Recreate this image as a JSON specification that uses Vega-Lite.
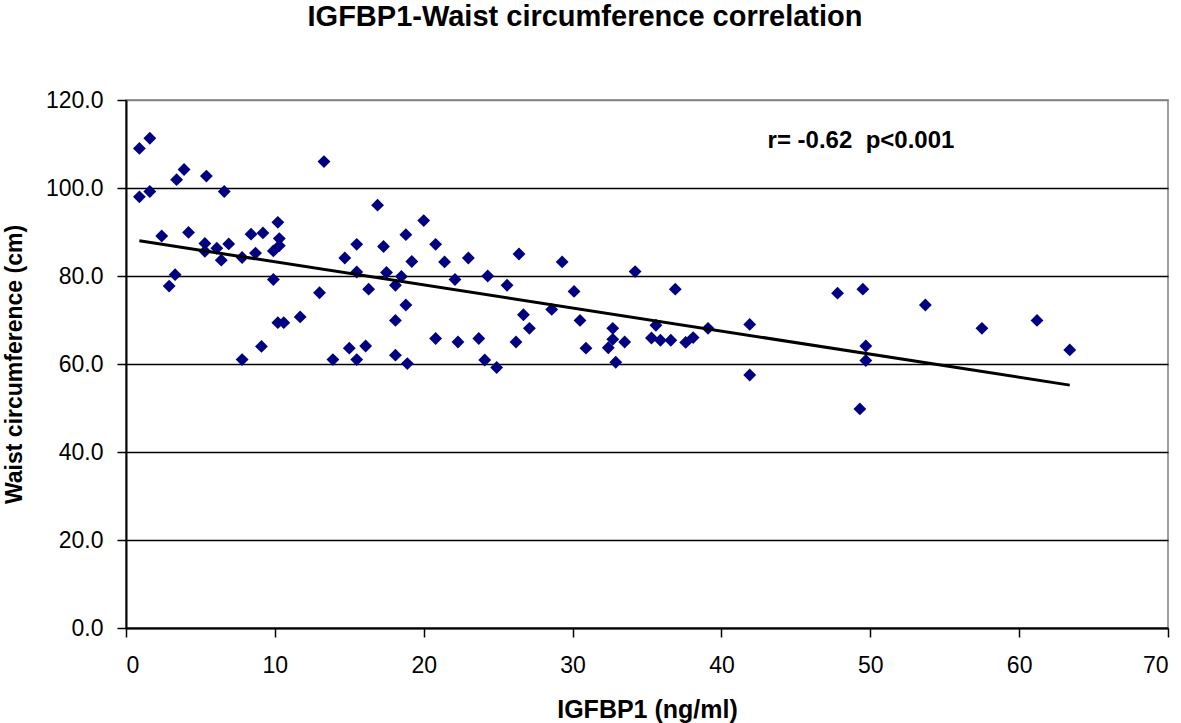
{
  "$schema": "https://vega.github.io/schema/vega-lite/v6.json",
  "autosize": {"type": "none"},
  "padding": {"left": 126, "top": 100, "right": 13, "bottom": 95},
  "width": 1042,
  "height": 528,
  "background": "white",
  "title": {
    "text": "IGFBP1-Waist circumference correlation",
    "font": "Liberation Sans",
    "fontSize": 29,
    "fontWeight": "bold",
    "color": "black",
    "anchor": "middle",
    "dx": -62,
    "offset": 57
  },
  "config": {
    "font": "Liberation Sans",
    "view": {"stroke": "#808080", "strokeWidth": 1.5},
    "axis": {
      "labelFont": "Liberation Sans",
      "labelColor": "black",
      "labelFontSize": 23,
      "titleFont": "Liberation Sans",
      "titleColor": "black",
      "titleFontWeight": "bold",
      "domainColor": "black",
      "domainWidth": 2,
      "tickColor": "black",
      "tickWidth": 1.5,
      "tickSize": 9
    }
  },
  "datasets": {
    "points": [
      {"igfbp1": 0.9, "waist": 109.0}, {"igfbp1": 1.6, "waist": 111.3},
      {"igfbp1": 0.9, "waist": 98.0}, {"igfbp1": 1.6, "waist": 99.2},
      {"igfbp1": 3.4, "waist": 101.9}, {"igfbp1": 3.9, "waist": 104.2},
      {"igfbp1": 5.4, "waist": 102.7}, {"igfbp1": 6.6, "waist": 99.2},
      {"igfbp1": 13.3, "waist": 106.0}, {"igfbp1": 2.4, "waist": 89.1},
      {"igfbp1": 4.2, "waist": 89.9}, {"igfbp1": 5.3, "waist": 87.4},
      {"igfbp1": 5.3, "waist": 85.6}, {"igfbp1": 6.1, "waist": 86.3},
      {"igfbp1": 6.4, "waist": 83.6}, {"igfbp1": 6.9, "waist": 87.3},
      {"igfbp1": 3.3, "waist": 80.3}, {"igfbp1": 2.9, "waist": 77.7},
      {"igfbp1": 7.8, "waist": 84.2}, {"igfbp1": 8.4, "waist": 89.5},
      {"igfbp1": 9.2, "waist": 89.8}, {"igfbp1": 8.7, "waist": 85.2},
      {"igfbp1": 10.2, "waist": 92.2}, {"igfbp1": 10.3, "waist": 88.5},
      {"igfbp1": 10.3, "waist": 86.9}, {"igfbp1": 9.9, "waist": 85.7},
      {"igfbp1": 9.9, "waist": 79.2}, {"igfbp1": 10.2, "waist": 69.4},
      {"igfbp1": 10.6, "waist": 69.4}, {"igfbp1": 11.7, "waist": 70.7},
      {"igfbp1": 7.8, "waist": 61.0}, {"igfbp1": 9.1, "waist": 64.0},
      {"igfbp1": 13.0, "waist": 76.2}, {"igfbp1": 13.9, "waist": 61.0},
      {"igfbp1": 15.0, "waist": 63.6}, {"igfbp1": 15.5, "waist": 61.0},
      {"igfbp1": 16.1, "waist": 64.1}, {"igfbp1": 14.7, "waist": 84.1},
      {"igfbp1": 15.5, "waist": 87.2}, {"igfbp1": 15.5, "waist": 80.9},
      {"igfbp1": 16.3, "waist": 77.0}, {"igfbp1": 16.9, "waist": 96.1},
      {"igfbp1": 17.3, "waist": 86.7}, {"igfbp1": 17.5, "waist": 80.8},
      {"igfbp1": 18.1, "waist": 77.9}, {"igfbp1": 18.5, "waist": 79.9},
      {"igfbp1": 18.1, "waist": 69.9}, {"igfbp1": 18.8, "waist": 73.4},
      {"igfbp1": 18.1, "waist": 62.0}, {"igfbp1": 18.9, "waist": 60.1},
      {"igfbp1": 18.8, "waist": 89.4}, {"igfbp1": 19.2, "waist": 83.3},
      {"igfbp1": 20.0, "waist": 92.6}, {"igfbp1": 20.8, "waist": 87.2},
      {"igfbp1": 21.4, "waist": 83.2}, {"igfbp1": 22.1, "waist": 79.2},
      {"igfbp1": 20.8, "waist": 65.8}, {"igfbp1": 22.3, "waist": 65.0},
      {"igfbp1": 23.0, "waist": 84.1}, {"igfbp1": 23.7, "waist": 65.8},
      {"igfbp1": 24.3, "waist": 80.0}, {"igfbp1": 25.6, "waist": 77.9},
      {"igfbp1": 26.4, "waist": 85.0}, {"igfbp1": 24.1, "waist": 60.9},
      {"igfbp1": 24.9, "waist": 59.2}, {"igfbp1": 26.2, "waist": 65.0},
      {"igfbp1": 26.7, "waist": 71.2}, {"igfbp1": 27.1, "waist": 68.1},
      {"igfbp1": 28.6, "waist": 72.4}, {"igfbp1": 29.3, "waist": 83.2},
      {"igfbp1": 30.1, "waist": 76.5}, {"igfbp1": 30.5, "waist": 69.9},
      {"igfbp1": 30.9, "waist": 63.6}, {"igfbp1": 32.7, "waist": 68.1},
      {"igfbp1": 32.7, "waist": 65.6}, {"igfbp1": 32.4, "waist": 63.7},
      {"igfbp1": 32.9, "waist": 60.4}, {"igfbp1": 33.5, "waist": 65.0},
      {"igfbp1": 34.2, "waist": 81.0}, {"igfbp1": 35.3, "waist": 65.9},
      {"igfbp1": 35.6, "waist": 68.8}, {"igfbp1": 35.9, "waist": 65.4},
      {"igfbp1": 36.6, "waist": 65.4}, {"igfbp1": 36.9, "waist": 77.0},
      {"igfbp1": 37.6, "waist": 64.9}, {"igfbp1": 38.1, "waist": 66.0},
      {"igfbp1": 39.1, "waist": 68.1}, {"igfbp1": 41.9, "waist": 69.0},
      {"igfbp1": 41.9, "waist": 57.5}, {"igfbp1": 47.8, "waist": 76.1},
      {"igfbp1": 49.5, "waist": 77.0}, {"igfbp1": 49.7, "waist": 64.1},
      {"igfbp1": 49.7, "waist": 60.8}, {"igfbp1": 49.3, "waist": 49.8},
      {"igfbp1": 53.7, "waist": 73.4}, {"igfbp1": 57.5, "waist": 68.1},
      {"igfbp1": 61.2, "waist": 69.9}, {"igfbp1": 63.4, "waist": 63.2}
    ],
    "trend": [
      {"igfbp1": 0.9, "waist": 88.0},
      {"igfbp1": 63.4, "waist": 55.2}
    ],
    "note": [
      {"igfbp1": 43.1, "waist": 109.1, "label": "r= -0.62\u00a0\u00a0p<0.001"}
    ]
  },
  "layer": [
    {
      "data": {"name": "points"},
      "mark": {"type": "point", "shape": "diamond", "filled": true, "color": "#000080", "opacity": 1, "size": 165},
      "encoding": {
        "x": {
          "field": "igfbp1",
          "type": "quantitative",
          "scale": {"domain": [0, 70], "nice": false, "zero": false},
          "axis": {
            "title": "IGFBP1 (ng/ml)",
            "titleFontSize": 25,
            "titleBaseline": "alphabetic",
            "titleY": 89,
            "values": [0, 10, 20, 30, 40, 50, 60, 70],
            "labelPadding": 17,
            "grid": false
          }
        },
        "y": {
          "field": "waist",
          "type": "quantitative",
          "scale": {"domain": [0, 120], "nice": false, "zero": false},
          "axis": {
            "title": "Waist circumference (cm)",
            "titleFontSize": 23,
            "titleBaseline": "middle",
            "titleX": -112,
            "values": [0, 20, 40, 60, 80, 100, 120],
            "format": ".1f",
            "labelPadding": 14,
            "grid": true,
            "gridColor": {"condition": {"test": "datum.value === 120", "value": "#808080"}, "value": "black"},
            "gridWidth": 1.5,
            "gridOpacity": 1
          }
        }
      }
    },
    {
      "data": {"name": "trend"},
      "mark": {"type": "line", "color": "black", "strokeWidth": 3},
      "encoding": {
        "x": {"field": "igfbp1", "type": "quantitative"},
        "y": {"field": "waist", "type": "quantitative"}
      }
    },
    {
      "data": {"name": "note"},
      "mark": {"type": "text", "align": "left", "baseline": "alphabetic", "font": "Liberation Sans", "fontSize": 24, "fontWeight": "bold", "color": "black"},
      "encoding": {
        "x": {"field": "igfbp1", "type": "quantitative"},
        "y": {"field": "waist", "type": "quantitative"},
        "text": {"field": "label"}
      }
    }
  ]
}
